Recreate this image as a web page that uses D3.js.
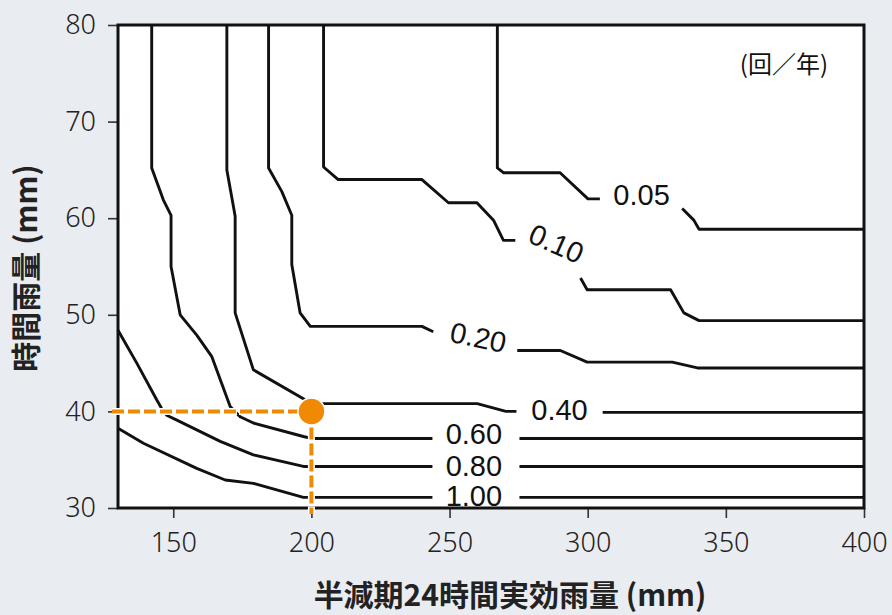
<!DOCTYPE html>
<html><head><meta charset="utf-8">
<script src="https://cdn.jsdelivr.net/npm/d3@7"></script>
<style>
html,body{margin:0;padding:0;background:#e9ecf1;}
svg{display:block;}
</style></head>
<body>
<svg id="chart" width="892" height="615"></svg>
<script>
// ---- data ----
const xTicks = [150, 200, 250, 300, 350, 400];
const yTicks = [30, 40, 50, 60, 70, 80];
const levels = ["0.05", "0.10", "0.20", "0.40", "0.60", "0.80", "1.00"];
// contour lines (x: 半減期24時間実効雨量 mm, y: 時間雨量 mm); null = gap for label
const c005 = [[267.3,80],[267.3,65.2],[269.6,64.7],[290,64.7],[300.1,62.0],[304.4,62.0],null,[334.2,61.0],[338.4,59.8],[340.3,58.85],[400,58.85]];
const c010 = [[204.4,80],[204.4,65.3],[209.7,64.0],[240,64.0],[249.6,61.6],[259.9,61.6],[265.9,59.8],[269.5,57.7],[273.8,57.7],null,[297.4,53.8],[299.8,52.6],[330,52.6],[334.8,50.2],[340.3,49.4],[400,49.4]];
const c020 = [[184.5,80],[184.5,65.2],[189.3,62.75],[192.9,60.3],[192.9,55.2],[195.9,50.2],[199.6,48.8],[240,48.8],[244.1,48.25],null,[274.5,46.3],[290.1,46.3],[299.8,45.1],[330.6,45.1],[339.7,44.5],[400,44.5]];
const c040 = [[169.4,80],[169.4,65.0],[171.6,61.5],[172.4,60.2],[172.4,50.2],[179.0,44.3],[197.1,41.3],[200,40.8],[204.3,40.8],[260,40.8],[270.4,40.0],[274.2,40.0],null,[305.4,39.9],[400,39.9]];
const c060 = [[142.2,80],[142.2,65.2],[146.4,61.9],[149.2,60.3],[149.2,55.0],[152.5,50.0],[158.5,47.9],[163.9,45.7],[170.6,40.5],[174.2,39.45],[179,38.8],[197.1,37.4],[200,37.2],[243.8,37.2],null,[275.3,37.2],[400,37.2]];
const c080 = [[130,48.4],[136.8,45.0],[144,41.2],[145.8,40.3],[147.6,39.6],[151.3,39.1],[167,36.9],[179,35.5],[197.1,34.3],[200,34.3],[243.8,34.3],null,[275.3,34.3],[400,34.3]];
const c100 = [[130,38.25],[139.2,36.7],[158.5,34.1],[168.8,32.9],[179,32.55],[197.1,31.1],[200,31.1],[243.8,31.1],null,[275.3,31.1],[400,31.1]];
const contours = [c005, c010, c020, c040, c060, c080, c100];
// label anchor points (data coords) and rotation
const labelX = [319.5, 288.7, 260.4, 289.8, 258.8, 258.8, 258.8];
const labelY = [62.4, 57.4, 47.7, 40.15, 37.66, 34.35, 31.3];
const labelAngle = [0, 24, 12, 0, 0, 0, 0];
// example point
const point = [200, 40];
const unitLabel = "(回／年)";
const xTitle = "半減期24時間実効雨量 (mm)";
const yTitle = "時間雨量 (mm)";

// ---- layout ----
const svg = d3.select("#chart");
const L = 118, R = 864, T = 25, B = 508;
const x = d3.scaleLinear().domain([130, 400]).range([L, R]);
const y = d3.scaleLinear().domain([30, 80]).range([B, T]);

svg.append("rect").attr("x", L).attr("y", T).attr("width", R - L).attr("height", B - T).attr("fill", "#fff");

const line = d3.line().defined(d => d !== null).x(d => x(d[0])).y(d => y(d[1]));
svg.append("g").selectAll("path").data(contours).join("path")
  .attr("d", line).attr("fill", "none").attr("stroke", "#111")
  .attr("stroke-width", 2.9).attr("stroke-linejoin", "round");

svg.append("g").selectAll("text").data(levels).join("text")
  .attr("transform", (d, i) => `translate(${x(labelX[i])},${y(labelY[i])}) rotate(${labelAngle[i]})`)
  .attr("text-anchor", "middle").attr("dy", "0.36em")
  .attr("font-family", "'Liberation Sans', Arial, sans-serif").attr("font-size", 29)
  .attr("fill", "#111").text(d => d);

svg.append("text").attr("x", 828).attr("y", 73).attr("text-anchor", "end")
  .attr("font-family", "'Noto Sans CJK JP', sans-serif").attr("font-size", 24).attr("fill", "#111")
  .text(unitLabel);

// axes
const xAxis = svg.append("g").attr("transform", `translate(0,${B})`)
  .call(d3.axisBottom(x).tickValues(xTicks).tickSize(10).tickPadding(15));
const yAxis = svg.append("g").attr("transform", `translate(${L},0)`)
  .call(d3.axisLeft(y).tickValues(yTicks).tickSize(10).tickPadding(12));
[xAxis, yAxis].forEach(g => {
  g.select(".domain").remove();
  g.selectAll(".tick line").attr("stroke", "#333").attr("stroke-width", 1.6);
  g.selectAll(".tick text").attr("font-family", "'Noto Sans', 'Open Sans', sans-serif")
    .attr("font-size", 27).attr("font-weight", 300).attr("fill", "#222");
});

// frame
svg.append("rect").attr("x", L).attr("y", T).attr("width", R - L).attr("height", B - T)
  .attr("fill", "none").attr("stroke", "#111").attr("stroke-width", 3);

// guide lines and point
const orange = "#f08a05";
const px = x(point[0]), py = y(point[1]);
const guides = [[[112, py], [px, py]], [[px, py], [px, 514]]];
guides.forEach(g => {
  svg.append("line").attr("x1", g[0][0]).attr("y1", g[0][1]).attr("x2", g[1][0]).attr("y2", g[1][1])
    .attr("stroke", "#fff").attr("stroke-width", 7).attr("stroke-dasharray", "14,2").attr("stroke-dashoffset", 1);
  svg.append("line").attr("x1", g[0][0]).attr("y1", g[0][1]).attr("x2", g[1][0]).attr("y2", g[1][1])
    .attr("stroke", orange).attr("stroke-width", 4).attr("stroke-dasharray", "12,4");
});
svg.append("circle").attr("cx", px).attr("cy", py).attr("r", 13.5).attr("fill", orange)
  .attr("stroke", "#fff").attr("stroke-width", 1.5);

// titles
svg.append("text").attr("x", 510).attr("y", 606).attr("text-anchor", "middle")
  .attr("font-family", "'Noto Sans CJK JP', sans-serif").attr("font-weight", 700)
  .attr("font-size", 30).attr("fill", "#222").text(xTitle);
svg.append("text").attr("transform", "translate(37,268) rotate(-90)").attr("text-anchor", "middle")
  .attr("font-family", "'Noto Sans CJK JP', sans-serif").attr("font-weight", 700)
  .attr("font-size", 30).attr("fill", "#222").text(yTitle);
</script>
</body></html>
